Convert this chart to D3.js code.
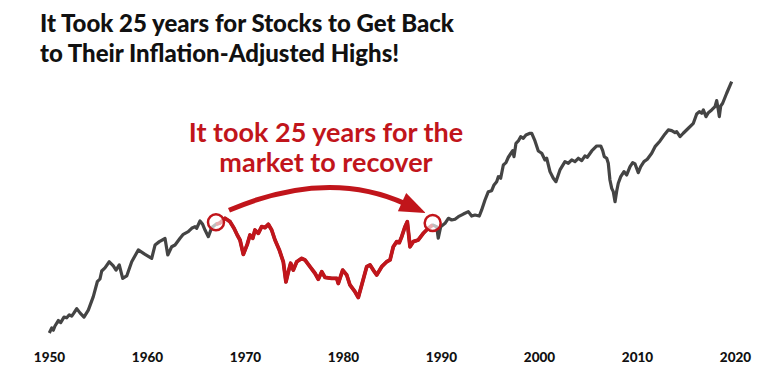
<!DOCTYPE html>
<html lang="en">

<head>
    <meta charset="UTF-8">
    <title>Stocks Inflation-Adjusted Recovery</title>
    <script src="https://d3js.org/d3.v7.min.js"></script>
    <style>
        body { margin: 0; background: #fff; }
        text { font-family: Lato, "Open Sans", sans-serif; }
    </style>
</head>

<body>
    <script>
        // inflation-adjusted S&P 500 level (approx, log scale)
        const years = [
            1950.03, 1950.28, 1950.44, 1950.61, 1950.95, 1951.19, 1951.53, 1951.81, 1952.07, 1952.32,
            1952.55, 1952.83, 1953.16, 1953.57, 1954.01, 1954.52, 1954.93, 1955.2, 1955.38, 1955.71,
            1956.15, 1956.56, 1956.84, 1957.17, 1957.52, 1957.93, 1958.44, 1959.11, 1959.8, 1960.48,
            1960.82, 1961.26, 1961.84, 1962.12, 1962.52, 1962.86, 1963.37, 1963.7, 1964.21, 1964.56,
            1964.9, 1965.07, 1965.41, 1965.68, 1965.92, 1966.26, 1966.6, 1967.04, 1967.45, 1967.96,
            1968.47, 1968.88, 1969.21, 1969.49, 1969.83, 1970.23, 1970.51, 1970.79, 1971.02, 1971.36,
            1971.7, 1972.04, 1972.38, 1972.72, 1973.06, 1973.5, 1973.91, 1974.18, 1974.42, 1974.66,
            1974.93, 1975.28, 1975.79, 1976.12, 1976.63, 1977.14, 1977.48, 1977.83, 1978.16, 1978.85,
            1979.36, 1979.52, 1979.97, 1980.38, 1980.71, 1981.22, 1981.56, 1981.91, 1982.42, 1982.76,
            1983.09, 1983.44, 1983.95, 1984.46, 1984.8, 1985.13, 1985.48, 1985.74, 1985.99, 1986.33,
            1986.56, 1986.84, 1987.17, 1987.68, 1988.19, 1988.7, 1989.15, 1989.56, 1989.72, 1989.97,
            1990.41, 1990.75, 1991.09, 1991.43, 1991.77, 1992.28, 1992.79, 1993.13, 1993.47, 1993.91,
            1994.15, 1994.49, 1994.83, 1995.17, 1995.41, 1995.68, 1995.85, 1996.09, 1996.36, 1996.63,
            1996.87, 1997.14, 1997.32, 1997.45, 1997.65, 1997.89, 1998.13, 1998.4, 1998.67, 1999.08,
            1999.26, 1999.59, 1999.93, 2000.28, 2000.61, 2000.79, 2001.12, 2001.46, 2001.73, 2002.14,
            2002.65, 2002.99, 2003.34, 2003.67, 2004.01, 2004.36, 2004.69, 2004.93, 2005.38, 2005.89,
            2006.3, 2006.5, 2006.66, 2006.91, 2007.07, 2007.24, 2007.42, 2007.58, 2007.76, 2007.93,
            2008.09, 2008.34, 2008.67, 2008.95, 2009.29, 2009.56, 2009.8, 2010.13, 2010.38, 2010.71,
            2011.05, 2011.5, 2011.84, 2012.35, 2012.86, 2013.19, 2013.54, 2013.88, 2014.05, 2014.39,
            2014.72, 2015.24, 2015.75, 2016.09, 2016.36, 2016.6, 2016.77, 2017.04, 2017.28, 2017.62,
            2017.96, 2018.13, 2018.3, 2018.4, 2018.54, 2018.74, 2019.15, 2019.66
        ];
        const values = [
            192, 205, 199, 210, 225, 219, 235, 233, 242, 238,
            248, 262, 248, 235, 257, 305, 369, 382, 423, 440,
            476, 451, 428, 457, 385, 397, 476, 553, 523, 497,
            589, 615, 640, 519, 576, 589, 642, 675, 698, 729,
            744, 729, 800, 767, 713, 655, 735, 767, 780, 828,
            793, 729, 669, 628, 523, 594, 669, 642, 713, 684,
            744, 735, 767, 713, 628, 553, 475, 368, 418, 467,
            428, 476, 497, 487, 447, 411, 381, 419, 390, 385,
            385, 361, 428, 402, 354, 325, 302, 354, 447, 457,
            428, 402, 447, 476, 487, 576, 615, 607, 655, 744,
            793, 576, 615, 628, 684, 729, 760, 744, 642, 744,
            777, 828, 810, 818, 845, 874, 901, 852, 863, 852,
            921, 1045, 1162, 1177, 1266, 1320, 1407, 1378, 1633, 1682,
            1802, 1896, 1960, 1816, 2153, 2218, 2342, 2295, 2394, 2446,
            2446, 2218, 1952, 1896, 1741, 1779, 1500, 1378, 1320, 1533,
            1704, 1669, 1741, 1704, 1779, 1726, 1832, 1802, 1952, 2080,
            2080, 1960, 1816, 1779, 1669, 1349, 1213, 1162, 1023, 1172,
            1293, 1407, 1500, 1438, 1598, 1682, 1654, 1481, 1598, 1704,
            1757, 1896, 2062, 2218, 2425, 2552, 2529, 2465, 2497, 2342,
            2446, 2607, 2778, 3128, 3222, 3156, 3293, 3023, 3181, 3293,
            3433, 3707, 3293, 3023, 3464, 3585, 4072, 4718
        ];
        const tickYears = [1950, 1960, 1970, 1980, 1990, 2000, 2010, 2020];
        const titleLines = ["It Took 25 years for Stocks to Get Back", "to Their Inflation-Adjusted Highs!"];
        const noteLines = ["It took 25 years for the", "market to recover"];
        const recoveryStart = 1967.04;
        const recoveryEnd = 1989.15;

        const red = "#c1151b";
        const grey = "#444";
        const width = 770, height = 387;

        const data = years.map((yr, i) => ({ year: yr, value: values[i] }));
        const recovery = data.filter(d => d.year >= recoveryStart && d.year <= recoveryEnd);

        const svg = d3.select("body")
            .append("svg")
            .attr("width", width)
            .attr("height", height);

        const x = d3.scaleLinear().domain([1950, 2020]).range([49, 735]);
        const y = d3.scaleLog().domain([192, 4700]).range([333, 82]);

        // title
        svg.append("g")
            .selectAll("text")
            .data(titleLines)
            .join("text")
            .attr("x", 40)
            .attr("y", (d, i) => 32 + i * 30)
            .attr("font-size", 24)
            .attr("font-weight", 900)
            .attr("fill", "#111")
            .text(d => d);

        // x axis, labels only
        const xAxis = svg.append("g")
            .attr("transform", "translate(0,342)")
            .call(d3.axisBottom(x).tickValues(tickYears).tickFormat(d3.format("d")).tickSize(0).tickPadding(10));
        xAxis.select(".domain").remove();
        xAxis.selectAll("text")
            .attr("font-family", "Lato, sans-serif")
            .attr("font-size", 13.5)
            .attr("font-weight", 900)
            .attr("fill", "#111");

        const line = d3.line()
            .x(d => x(d.year))
            .y(d => y(d.value));

        svg.append("path")
            .datum(data)
            .attr("fill", "none")
            .attr("stroke", grey)
            .attr("stroke-width", 3.2)
            .attr("stroke-linejoin", "round")
            .attr("d", line);

        svg.append("path")
            .datum(recovery)
            .attr("fill", "none")
            .attr("stroke", red)
            .attr("stroke-width", 3.8)
            .attr("stroke-linejoin", "round")
            .attr("d", line);

        const p0 = recovery[0];
        const p1 = recovery[recovery.length - 1];

        svg.selectAll("circle.mark")
            .data([p0, p1])
            .join("circle")
            .attr("class", "mark")
            .attr("cx", d => x(d.year))
            .attr("cy", d => y(d.value) - 2)
            .attr("r", 8)
            .attr("fill", "#fff")
            .attr("fill-opacity", 0.65)
            .attr("stroke", red)
            .attr("stroke-width", 2.5);

        // curved arrow between the two circles
        const a0 = [x(p0.year) + 13, y(p0.value) - 14];
        const tip = [x(p1.year) - 7, y(p1.value) - 12];
        const ctrl = [(a0[0] + tip[0]) / 2, 168];
        const dx = tip[0] - ctrl[0], dy = tip[1] - ctrl[1];
        const len = Math.hypot(dx, dy);
        const ux = dx / len, uy = dy / len;
        const headLen = 26, headW = 10;
        const base = [tip[0] - ux * headLen, tip[1] - uy * headLen];
        const bodyEnd = [base[0] + ux * 4, base[1] + uy * 4];

        const arrow = d3.path();
        arrow.moveTo(a0[0], a0[1]);
        arrow.quadraticCurveTo(ctrl[0], ctrl[1], bodyEnd[0], bodyEnd[1]);
        svg.append("path")
            .attr("d", arrow.toString())
            .attr("fill", "none")
            .attr("stroke", red)
            .attr("stroke-width", 5);

        svg.append("path")
            .attr("d", d3.line()([
                tip,
                [base[0] - uy * headW, base[1] + ux * headW],
                [base[0] + uy * headW, base[1] - ux * headW]
            ]) + "Z")
            .attr("fill", red);

        svg.append("g")
            .selectAll("text")
            .data(noteLines)
            .join("text")
            .attr("x", 326)
            .attr("y", (d, i) => 142 + i * 30)
            .attr("text-anchor", "middle")
            .attr("font-size", 27)
            .attr("font-weight", 700)
            .attr("fill", red)
            .text(d => d);
    </script>
</body>

</html>
